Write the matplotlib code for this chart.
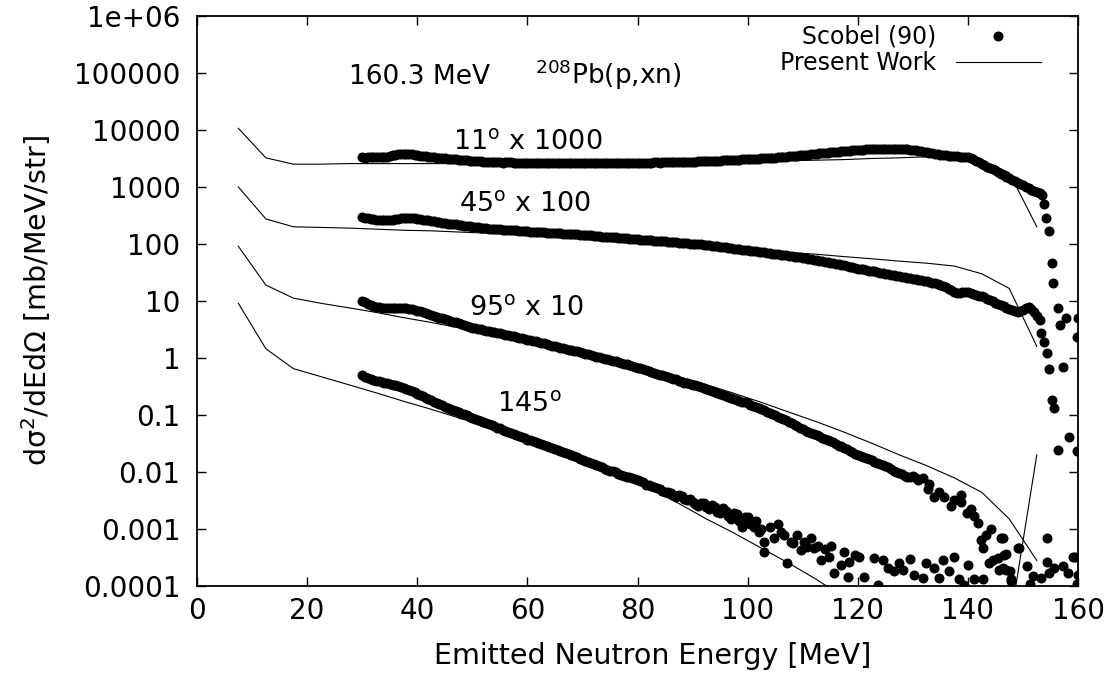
import matplotlib
matplotlib.use("Agg")
import matplotlib.pyplot as plt
import numpy as np
from matplotlib.lines import Line2D
from matplotlib.ticker import FixedLocator, FuncFormatter, NullLocator

plt.rcParams["font.family"] = ["DejaVu Sans"]
plt.rcParams["mathtext.fontset"] = "dejavusans"

# ---- Scobel (90) data, 0.5 MeV bins starting at 30 MeV ----
d11 = [3350, 3280, 3300, 3360, 3350, 3290, 3300, 3380, 3400, 3420,
       3500, 3600, 3650, 3720, 3750, 3820, 3850, 3800, 3750, 3700,
       3600, 3560, 3500, 3430, 3400, 3350, 3300, 3260, 3250, 3200,
       3180, 3120, 3100, 3080, 3050, 3010, 3000, 2970, 2950, 2900,
       2880, 2860, 2830, 2800, 2780, 2790, 2760, 2730, 2740, 2710,
       2700, 2680, 2690, 2720, 2700, 2670, 2660, 2640, 2640, 2660,
       2650, 2620, 2600, 2620, 2640, 2630, 2610, 2600, 2630, 2640,
       2600, 2620, 2650, 2640, 2620, 2600, 2600, 2620, 2640, 2650,
       2630, 2640, 2660, 2630, 2610, 2620, 2640, 2650, 2620, 2630,
       2650, 2660, 2630, 2640, 2670, 2660, 2640, 2650, 2660, 2670,
       2640, 2660, 2680, 2670, 2650, 2680, 2700, 2710, 2680, 2700,
       2720, 2730, 2700, 2720, 2740, 2760, 2760, 2750, 2740, 2760,
       2780, 2790, 2800, 2820, 2830, 2840, 2850, 2870, 2880, 2890,
       2900, 2930, 2950, 2960, 2980, 2990, 3000, 3030, 3050, 3060,
       3080, 3100, 3120, 3130, 3150, 3180, 3200, 3210, 3230, 3260,
       3280, 3320, 3350, 3370, 3400, 3440, 3480, 3520, 3560, 3600,
       3630, 3660, 3700, 3750, 3800, 3840, 3880, 3930, 3980, 4010,
       4050, 4100, 4150, 4180, 4220, 4260, 4300, 4340, 4380, 4420,
       4450, 4480, 4520, 4550, 4580, 4600, 4620, 4650, 4680, 4660,
       4650, 4680, 4700, 4690, 4680, 4670, 4650, 4600, 4550, 4500,
       4450, 4380, 4300, 4220, 4150, 4080, 4000, 3920, 3850, 3780,
       3700, 3650, 3600, 3550, 3500, 3480, 3450, 3420, 3400, 3380,
       3350, 3200, 3050, 2880, 2700, 2550, 2400, 2270, 2150, 2050,
       1950, 1820, 1700, 1600, 1500, 1410, 1330, 1250, 1180, 1120,
       1070, 1010, 950, 900, 850, 810, 780]
d45 = [295, 288, 280, 276, 272, 268, 265, 266, 268, 264,
       262, 266, 270, 278, 285, 288, 290, 286, 282, 280,
       278, 272, 268, 263, 258, 254, 250, 245, 240, 236,
       232, 228, 225, 222, 220, 217, 214, 210, 207, 203,
       200, 198, 196, 193, 190, 188, 186, 185, 183, 181,
       180, 179, 178, 176, 175, 175, 174, 172, 170, 168,
       166, 165, 164, 163, 162, 161, 160, 158, 157, 156,
       155, 154, 153, 152, 151, 150, 149, 148, 147, 146,
       145, 143, 142, 141, 140, 138, 137, 135, 134, 133,
       132, 131, 130, 128, 127, 126, 125, 123, 122, 121,
       120, 119, 118, 118, 117, 116, 115, 114, 113, 112,
       112, 110, 109, 108, 107, 106, 105, 103, 102, 101,
       100, 99.5, 99, 98, 97, 96, 95, 93.5, 92, 90.5,
       89, 88, 87, 85.5, 84, 83, 82, 80.5, 79, 78,
       77, 76, 75, 74, 73, 72, 71, 70, 69, 68,
       67, 66, 65, 64, 63, 62, 61, 60, 59, 58,
       57, 56, 55, 54, 53, 52, 51, 50, 49, 48,
       47, 46, 45, 44, 43, 42, 41, 40, 39, 38,
       37, 36.5, 36, 35, 34, 33.5, 33, 32, 31.5, 30.5,
       30, 29.5, 29, 28, 27.5, 27, 26.5, 26, 25.5, 25,
       24.5, 24, 23.5, 23, 22.5, 22, 21.5, 21, 20.4, 19.8,
       19, 18.5, 17.8, 16.5, 15.5, 14.5, 13.8, 14.0, 14.5, 14.5,
       14.2, 13.6, 13.2, 12.8, 12.3, 12.0, 11.7, 11.0, 10.5, 9.9,
       9.3, 8.9, 8.5, 8.0, 7.6, 7.2, 6.9, 6.6, 6.5, 6.7,
       7.0, 7.4, 7.8, 7.3, 6.3, 5.5, 4.7]
d95 = [10.0, 9.4, 8.8, 8.4, 8.0, 7.8, 7.7, 7.6, 7.6, 7.55,
       7.5, 7.45, 7.4, 7.45, 7.5, 7.5, 7.5, 7.3, 7.1, 6.95,
       6.8, 6.55, 6.3, 6.1, 5.9, 5.7, 5.5, 5.3, 5.1, 4.95,
       4.8, 4.65, 4.5, 4.35, 4.2, 4.05, 3.9, 3.75, 3.6, 3.5,
       3.4, 3.32, 3.25, 3.18, 3.1, 3.02, 2.95, 2.88, 2.82, 2.76,
       2.7, 2.63, 2.57, 2.51, 2.45, 2.39, 2.33, 2.28, 2.22, 2.16,
       2.1, 2.05, 2.0, 1.95, 1.9, 1.85, 1.8, 1.75, 1.7, 1.65,
       1.6, 1.56, 1.52, 1.48, 1.44, 1.4, 1.37, 1.33, 1.30, 1.26,
       1.23, 1.19, 1.16, 1.13, 1.10, 1.06, 1.03, 1.0, 0.97, 0.945,
       0.92, 0.895, 0.87, 0.845, 0.82, 0.795, 0.77, 0.745, 0.72, 0.70,
       0.68, 0.655, 0.63, 0.61, 0.59, 0.57, 0.55, 0.53, 0.51, 0.495,
       0.48, 0.465, 0.45, 0.435, 0.42, 0.40, 0.38, 0.37, 0.36, 0.35,
       0.34, 0.33, 0.32, 0.31, 0.30, 0.29, 0.275, 0.265, 0.255, 0.245,
       0.235, 0.225, 0.215, 0.207, 0.20, 0.192, 0.185, 0.178, 0.172, 0.166,
       0.16, 0.152, 0.145, 0.138, 0.13, 0.125, 0.12, 0.114, 0.108, 0.103,
       0.098, 0.093, 0.088, 0.084, 0.08, 0.075, 0.071, 0.067, 0.063, 0.059,
       0.056, 0.053, 0.051, 0.049, 0.047, 0.044, 0.042, 0.040, 0.038, 0.036,
       0.035, 0.033, 0.031, 0.029, 0.028, 0.026, 0.025, 0.023, 0.022, 0.021,
       0.020, 0.019, 0.018, 0.0178, 0.017, 0.016, 0.015, 0.0145, 0.014, 0.0132,
       0.0125, 0.012, 0.0115, 0.0105, 0.0098, 0.0095, 0.0092, 0.0086, 0.0080, 0.0083,
       0.0085, 0.0078, 0.0072]
d145 = [0.50, 0.47, 0.44, 0.425, 0.41, 0.40, 0.39, 0.38, 0.37, 0.362,
        0.355, 0.342, 0.33, 0.32, 0.31, 0.30, 0.29, 0.277, 0.265, 0.25,
        0.235, 0.225, 0.215, 0.202, 0.19, 0.181, 0.172, 0.163, 0.155, 0.147,
        0.14, 0.133, 0.126, 0.121, 0.116, 0.111, 0.106, 0.102, 0.098, 0.093,
        0.089, 0.085, 0.082, 0.079, 0.076, 0.072, 0.069, 0.066, 0.063, 0.060,
        0.058, 0.055, 0.053, 0.051, 0.049, 0.047, 0.045, 0.043, 0.041, 0.039,
        0.037, 0.036, 0.035, 0.0335, 0.032, 0.031, 0.0295, 0.028, 0.027, 0.026,
        0.025, 0.024, 0.023, 0.0222, 0.0215, 0.0205, 0.0195, 0.0188, 0.018, 0.017,
        0.0162, 0.0155, 0.0148, 0.0143, 0.0138, 0.0133, 0.0128, 0.012, 0.0115, 0.011,
        0.0105, 0.0102, 0.0098, 0.0094, 0.0090, 0.0086, 0.0083, 0.0081, 0.0078, 0.0075,
        0.0072, 0.0069, 0.0066, 0.0060, 0.0058, 0.0057, 0.0055, 0.0052, 0.0050, 0.0047,
        0.0045, 0.0044, 0.0042, 0.0039, 0.0036, 0.0040, 0.0038, 0.0034, 0.0032, 0.0033,
        0.0030, 0.0027, 0.0025, 0.0029, 0.0028, 0.0024, 0.0022, 0.0026, 0.0024, 0.0020,
        0.0019, 0.0023, 0.0021, 0.0017, 0.0015, 0.0019, 0.0018, 0.0014, 0.0013, 0.0016]

# scattered points near the end of each spectrum (energy, value)
e11_tail = [153.4, 153.8, 154.2, 154.7, 155.2, 155.5, 156.3, 156.7, 157.8, 160.0, 159.8,
            157.2, 158.4, 159.8]
v11_tail = [725, 500, 290, 170, 47, 21, 7.6, 3.8, 5.0, 5.0, 2.3,
            0.69, 0.041, 0.023]
e45_tail = [153.3, 153.8, 154.3, 154.7, 155.2, 155.7, 156.3]
v45_tail = [2.75, 1.9, 1.23, 0.65, 0.18, 0.13, 0.024]
e95_tail = [131.8, 132.7, 133.9, 135.7, 136.9, 138.7, 138.7, 139.9, 141.1, 141.8,
            142.4, 142.7, 144.2, 144.5, 145.4, 146.0, 146.6, 146.9, 147.8, 149.0,
            133.0, 134.8, 137.5, 140.5, 143.2]
v95_tail = [0.0078, 0.0051, 0.0037, 0.0037, 0.0025, 0.004, 0.003, 0.0019, 0.00166, 0.00126,
            6.5e-4, 4.6e-4, 0.001, 2.9e-4, 3.1e-4, 6.9e-4, 3.5e-4, 1.9e-4, 1.3e-4, 4.6e-4,
            0.0062, 0.0044, 0.0032, 0.0022, 8.0e-4]
e145_tail = [100.5, 101.1, 102.0, 103.0, 103.0, 104.8, 106.6,
             107.2, 108.2, 109.6, 110.8, 112.0, 113.3, 114.8, 115.7, 116.9, 118.4,
             118.2, 120.2, 121.1, 122.9, 123.6, 125.5, 126.6, 128.2, 130.2, 131.8,
             132.4, 133.8, 134.7, 136.5, 138.4, 139.3, 140.0, 141.1, 142.7, 143.8,
             145.6, 146.3, 146.9, 146.3, 147.7, 147.8, 149.3, 150.7, 151.8, 151.3,
             153.3, 154.3, 154.3, 154.7, 155.6, 157.2, 158.1, 159.0, 159.5, 160.0,
             159.8, 99.0, 100.0, 101.5, 102.5, 104.0, 105.5, 106.0, 107.8, 109.0,
             110.2, 111.5, 112.7, 114.0, 115.2, 117.5, 119.5, 124.5, 127.5, 129.5,
             135.5, 137.5]
v145_tail = [0.0012, 0.0011, 0.0009, 5.9e-4, 4.0e-4, 6.9e-4, 7.8e-4,
             2.5e-4, 5.6e-4, 4.3e-4, 4.9e-4, 4.7e-4, 2.9e-4, 3.2e-4, 1.7e-4, 2.3e-4, 2.6e-4,
             1.45e-4, 3.2e-4, 1.45e-4, 3.1e-4, 1.05e-4, 2.1e-4, 1.8e-4, 1.9e-4, 1.55e-4, 1.4e-4,
             2.5e-4, 2.1e-4, 1.4e-4, 1.8e-4, 1.3e-4, 1.05e-4, 2.3e-4, 1.3e-4, 1.3e-4, 2.5e-4,
             1.9e-4, 6.9e-4, 3.6e-4, 2.1e-4, 1.8e-4, 1.2e-4, 4.7e-4, 2.2e-4, 1.5e-4, 1.1e-4,
             1.4e-4, 6.9e-4, 2.6e-4, 1.7e-4, 2.1e-4, 2.2e-4, 1.7e-4, 3.2e-4, 3.2e-4, 1.55e-4,
             1.1e-4, 0.0011, 0.0016, 0.0014, 0.0010, 0.0011, 0.0012, 9.0e-4, 6.0e-4, 8.0e-4,
             6.0e-4, 7.0e-4, 5.0e-4, 4.5e-4, 5.0e-4, 4.0e-4, 3.5e-4, 2.8e-4, 2.5e-4, 3.0e-4,
             2.8e-4, 3.2e-4]

# ---- Present work, 5 MeV bins from 7.5 MeV ----
e_calc = np.arange(7.5, 153.0, 5.0)
c11 = [10700, 3240, 2510, 2510, 2570, 2570, 2570, 2570, 2570, 2630,
       2630, 2630, 2690, 2690, 2690, 2750, 2750, 2820, 2820, 2880,
       2880, 2950, 3020, 3160, 3240, 3390, 3240, 2880, 1780, 200]
c45 = [1000, 275, 200, 195, 190, 182, 174, 170, 162, 155,
       145, 135, 126, 115, 105, 98, 91, 85, 79, 74,
       71, 66, 60, 55, 50, 46, 41, 30, 16.6, 1.6]
c95 = [91, 19, 11.2, 9.1, 7.6, 6.3, 5.1, 4.2, 3.4, 2.7,
       2.14, 1.66, 1.29, 1.0, 0.78, 0.60, 0.47, 0.34, 0.24, 0.166,
       0.112, 0.076, 0.050, 0.032, 0.020, 0.0129, 0.0079, 0.0044, 0.0015, 0.00028]
c145 = [9.1, 1.45, 0.65, 0.47, 0.34, 0.245, 0.174, 0.126, 0.089, 0.063,
        0.043, 0.029, 0.019, 0.0123, 0.0079, 0.0049, 0.0028, 0.0015, 8.5e-4, 4.6e-4,
        2.5e-4, 1.3e-4, 6.3e-5, 3.2e-5, 1.6e-5, 8e-6, 4.5e-6, 3.2e-6, 1.9e-5, 0.02]

yticks = [1e-4, 1e-3, 1e-2, 1e-1, 1, 10, 100, 1e3, 1e4, 1e5, 1e6]
xticks = [0, 20, 40, 60, 80, 100, 120, 140, 160]

fs = 20
fig = plt.figure(figsize=(11.12, 6.73), dpi=100)
ax = fig.add_axes([0.1772, 0.1293, 0.7923, 0.8470])

mk = dict(ls="none", marker="o", ms=6.2, color="black", mec="black")
for d in (d11, d45, d95, d145):
    ax.plot(30.0 + 0.5 * np.arange(len(d)), d, **mk)
for e, v in ((e11_tail, v11_tail), (e45_tail, v45_tail),
             (e95_tail, v95_tail), (e145_tail, v145_tail)):
    ax.plot(e, v, **mk)

for c in (c11, c45, c95, c145):
    ax.plot(e_calc, c, color="black", lw=0.8)

ax.set_yscale("log")
ax.set_xlim(0, 160)
ax.set_ylim(1e-4, 1e6)
ax.yaxis.set_major_locator(FixedLocator(yticks))
ax.yaxis.set_minor_locator(NullLocator())
ax.yaxis.set_major_formatter(FuncFormatter(lambda v, p: "%g" % v))
ax.set_xticks(xticks)
ax.tick_params(direction="in", length=6.5, width=1.0, top=True, right=True,
               labelsize=fs, color="black")
ax.tick_params(axis="y", pad=12)
ax.tick_params(axis="x", pad=8)
for s in ax.spines.values():
    s.set_linewidth(1.3)

fig.text(0.587, 0.026, "Emitted Neutron Energy [MeV]", fontsize=20.5,
         ha="center", va="center")
ax.set_ylabel("d\u03c3$^2$/dEd\u03a9 [mb/MeV/str]", fontsize=20.5)
ax.yaxis.set_label_coords(-0.163, 0.5)

ax.text(40.4, 6.4e4, "160.3 MeV", fontsize=19, ha="center", va="baseline")
ax.text(74.6, 6.4e4, "$^{208}$Pb(p,xn)", fontsize=19, ha="center", va="baseline")
ax.text(46.4, 4.6e3, "11$^{\\mathrm{o}}$ x 1000", fontsize=19.5, va="baseline")
ax.text(47.6, 3.7e2, "45$^{\\mathrm{o}}$ x 100", fontsize=19.5, va="baseline")
ax.text(49.4, 5.5, "95$^{\\mathrm{o}}$ x 10", fontsize=19.5, va="baseline")
ax.text(54.4, 0.115, "145$^{\\mathrm{o}}$", fontsize=19.5, va="baseline")

handles = [Line2D([], [], ls="none", marker="o", ms=6.2, color="black"),
           Line2D([], [], color="black", lw=0.8)]
ax.legend(handles, ["Scobel (90)", "Present Work"], loc="upper right",
          bbox_to_anchor=(0.936, 0.963), bbox_transform=fig.transFigure,
          frameon=False, markerfirst=False, fontsize=17, handlelength=3.6,
          handletextpad=0.85, labelspacing=0.1, borderpad=0, borderaxespad=0)

fig.savefig("out.png", dpi=100)
